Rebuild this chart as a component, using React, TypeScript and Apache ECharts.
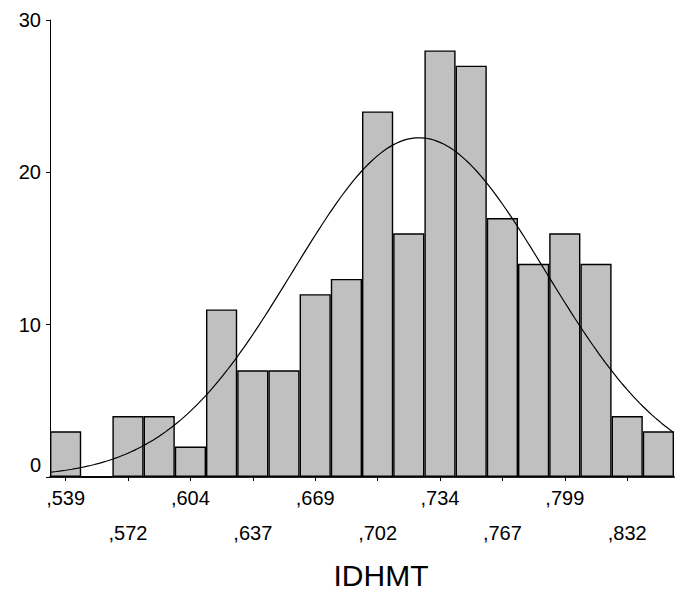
import React, { useEffect, useRef } from "react";
import * as echarts from "echarts";

// Histogram of IDHMT (20 bins), counts
const binLabels = [
  ",539", "", ",572", "", ",604", "", ",637", "", ",669", "",
  ",702", "", ",734", "", ",767", "", ",799", "", ",832", "",
];
const counts = [3, 0, 4, 4, 2, 11, 7, 7, 12, 13, 24, 16, 28, 27, 17, 14, 16, 14, 4, 3];
const yTicks = [0, 10, 20, 30];
const axisTitle = "IDHMT";

const FONT = "Arial, 'Liberation Sans', sans-serif";

function normalCurve(): [number, number][] {
  // fitted normal curve derived from histogram (in bin units)
  const n = counts.reduce((a, b) => a + b, 0);
  const mean = counts.reduce((s, c, i) => s + c * (i + 0.5), 0) / n;
  const variance = counts.reduce((s, c, i) => s + c * (i + 0.5 - mean) ** 2, 0) / (n - 1);
  const sd = Math.sqrt(variance);
  const pts: [number, number][] = [];
  for (let k = 0; k <= 200; k++) {
    const x = k / 10;
    const y = (n / (sd * Math.sqrt(2 * Math.PI))) * Math.exp(-((x - mean) ** 2) / (2 * sd * sd));
    pts.push([x, y]);
  }
  return pts;
}

export default function App() {
  const ref = useRef<HTMLDivElement>(null);
  useEffect(() => {
    if (!ref.current) return;
    const chart = echarts.init(ref.current, undefined, { renderer: "svg" });
    chart.setOption({
      animation: false,
      backgroundColor: "#fff",
      grid: { left: 50, right: 9, top: 20, bottom: 114, containLabel: false },
      xAxis: [
        {
          type: "category",
          data: binLabels,
          boundaryGap: true,
          axisLine: { show: true, lineStyle: { color: "#222", width: 2 } },
          axisTick: {
            show: true,
            alignWithLabel: true,
            interval: (idx: number) => idx % 2 === 0,
            length: 4,
            lineStyle: { color: "#000", width: 1 },
          },
          axisLabel: {
            interval: 0,
            color: "#000",
            fontSize: 20,
            fontFamily: FONT,
            lineHeight: 35,
            margin: 3,
            formatter: (val: string, idx: number) =>
              idx % 2 === 1 ? "" : idx % 4 === 0 ? val : "\n" + val,
          },
          splitLine: { show: false },
        },
        { type: "value", min: 0, max: 20, show: false },
      ],
      yAxis: {
        type: "value",
        min: yTicks[0],
        max: yTicks[yTicks.length - 1],
        interval: 10,
        axisLine: { show: true, lineStyle: { color: "#000", width: 1 } },
        axisTick: { show: true, length: 4, lineStyle: { color: "#000" } },
        splitLine: { show: false },
        axisLabel: {
          color: "#000",
          fontSize: 20,
          fontFamily: FONT,
          margin: 9,
          formatter: (v: number) => (v === 0 ? "{z|0}" : String(v)),
          rich: { z: { fontSize: 20, fontFamily: FONT, color: "#000", padding: [0, 0, 24, 0] } },
        },
      },
      series: [
        {
          type: "bar",
          data: counts,
          barCategoryGap: "0%",
          itemStyle: { color: "#c0c0c0", borderColor: "#000", borderWidth: 1.4 },
        },
        {
          type: "line",
          xAxisIndex: 1,
          data: normalCurve(),
          showSymbol: false,
          smooth: false,
          lineStyle: { color: "#000", width: 1.2 },
          z: 5,
        },
      ],
      graphic: [
        {
          type: "text",
          x: 381,
          y: 560,
          style: {
            text: axisTitle,
            fontSize: 30,
            lineHeight: 30,
            fontFamily: FONT,
            fill: "#000",
            textAlign: "center",
            textVerticalAlign: "top",
          },
        },
      ],
    });
    return () => chart.dispose();
  }, []);
  return (
    <div
      ref={ref}
      style={{ position: "fixed", left: 0, top: 0, width: 683, height: 591, background: "#fff" }}
    />
  );
}
